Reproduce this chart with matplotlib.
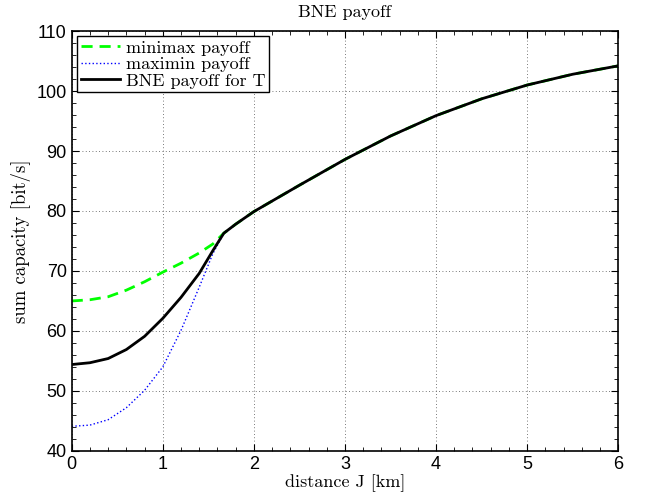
import numpy as np
import matplotlib
matplotlib.use("Agg")
import matplotlib.pyplot as plt
from matplotlib.ticker import MultipleLocator

# values
x_pre = [0.0, 0.2, 0.4, 0.6, 0.8, 1.0, 1.2, 1.4, 1.55, 1.67]
minimax_pre = [65.0, 65.2, 65.7, 66.8, 68.2, 69.8, 71.3, 73.0, 74.5, 76.3]
maximin_pre = [44.1, 44.3, 45.2, 47.2, 50.1, 54.0, 60.1, 67.3, 72.9, 76.3]
bne_pre = [54.4, 54.7, 55.4, 56.9, 59.1, 62.1, 65.6, 69.6, 73.4, 76.3]

x_post = [1.67, 1.8, 2.0, 2.5, 3.0, 3.5, 4.0, 4.5, 5.0, 5.5, 6.0]
common_post = [76.3, 77.8, 79.9, 84.3, 88.6, 92.5, 95.9, 98.7, 101.0, 102.8, 104.2]

x = x_pre + x_post[1:]
minimax = minimax_pre + common_post[1:]
maximin = maximin_pre + common_post[1:]
bne = bne_pre + common_post[1:]

serif = "cmr10"

fig = plt.figure(figsize=(6.46, 5.01), dpi=100)
ax = fig.add_axes([0.111, 0.1, 0.846, 0.838])

ax.plot(x, minimax, "--", color=(0, 1, 0), lw=2, dashes=(4, 2.5), label="minimax payoff")
ax.plot(x, maximin, ":", color=(0, 0, 1), lw=1, label="maximin payoff")
ax.plot(x, bne, "-", color="k", lw=2, label="BNE payoff for T")

ax.set_xlim(0, 6)
ax.set_ylim(40, 110)
ax.xaxis.set_major_locator(MultipleLocator(1))
ax.xaxis.set_minor_locator(MultipleLocator(0.2))
ax.yaxis.set_major_locator(MultipleLocator(10))
ax.yaxis.set_minor_locator(MultipleLocator(2))
ax.tick_params(which="both", direction="in", top=True, right=True, labelsize=13)
ax.tick_params(which="major", length=5)
ax.tick_params(which="minor", length=3)
for lab in ax.get_xticklabels() + ax.get_yticklabels():
    lab.set_fontfamily("Liberation Sans")
for s in ax.spines.values():
    s.set_linewidth(1.2)
ax.grid(True, which="major", linestyle=(0, (1, 3)), color="0.3", lw=0.6)

ax.set_title("BNE payoff", fontfamily=serif, fontsize=13, pad=10)
ax.set_xlabel("distance J [km]", fontfamily=serif, fontsize=13, labelpad=1)
ax.set_ylabel("sum capacity [bit/s]", fontfamily=serif, fontsize=13.5, labelpad=4)

leg = ax.legend(loc="upper left", prop={"family": serif, "size": 13}, fancybox=False,
                edgecolor="k", framealpha=1, borderpad=0.2, labelspacing=0.05,
                handlelength=2.2, handletextpad=0.3, borderaxespad=0.3)
leg.get_frame().set_linewidth(1.0)

fig.savefig("out.png", dpi=100)
